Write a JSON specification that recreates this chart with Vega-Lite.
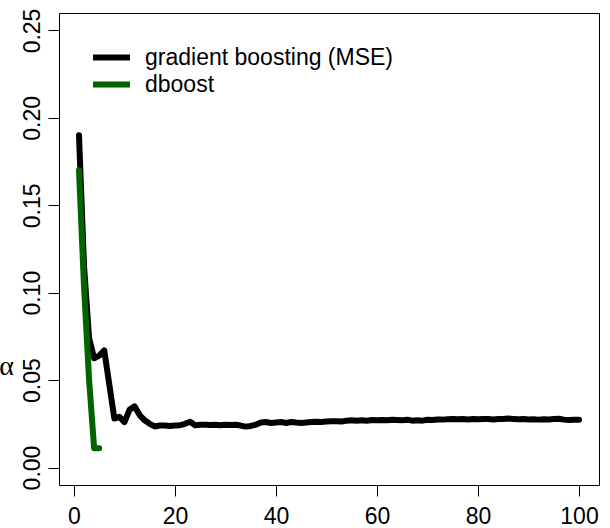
{
  "$schema": "https://vega.github.io/schema/vega-lite/v6.json",
  "width": 540,
  "height": 472,
  "autosize": {"type": "none"},
  "padding": {"left": 59, "top": 13, "right": 11, "bottom": 43},
  "background": "white",
  "config": {
    "view": {"stroke": "black", "strokeWidth": 1},
    "font": "Liberation Sans",
    "axis": {
      "grid": false,
      "domain": false,
      "tickColor": "black",
      "tickWidth": 1,
      "tickSize": 11,
      "labelFont": "Liberation Sans",
      "labelFontSize": 23,
      "labelColor": "black"
    }
  },
  "data": {
    "values": [
      {"series": "gradient boosting (MSE)", "iter": 1, "value": 0.190},
      {"series": "gradient boosting (MSE)", "iter": 2, "value": 0.115},
      {"series": "gradient boosting (MSE)", "iter": 3, "value": 0.074},
      {"series": "gradient boosting (MSE)", "iter": 4, "value": 0.0625},
      {"series": "gradient boosting (MSE)", "iter": 5, "value": 0.064},
      {"series": "gradient boosting (MSE)", "iter": 6, "value": 0.067},
      {"series": "gradient boosting (MSE)", "iter": 7, "value": 0.0475},
      {"series": "gradient boosting (MSE)", "iter": 8, "value": 0.028},
      {"series": "gradient boosting (MSE)", "iter": 9, "value": 0.029},
      {"series": "gradient boosting (MSE)", "iter": 10, "value": 0.026},
      {"series": "gradient boosting (MSE)", "iter": 11, "value": 0.033},
      {"series": "gradient boosting (MSE)", "iter": 12, "value": 0.035},
      {"series": "gradient boosting (MSE)", "iter": 13, "value": 0.030},
      {"series": "gradient boosting (MSE)", "iter": 14, "value": 0.027},
      {"series": "gradient boosting (MSE)", "iter": 15, "value": 0.025},
      {"series": "gradient boosting (MSE)", "iter": 16, "value": 0.0235},
      {"series": "gradient boosting (MSE)", "iter": 17, "value": 0.024},
      {"series": "gradient boosting (MSE)", "iter": 18, "value": 0.024},
      {"series": "gradient boosting (MSE)", "iter": 19, "value": 0.0238},
      {"series": "gradient boosting (MSE)", "iter": 20, "value": 0.024},
      {"series": "gradient boosting (MSE)", "iter": 21, "value": 0.0242},
      {"series": "gradient boosting (MSE)", "iter": 22, "value": 0.025},
      {"series": "gradient boosting (MSE)", "iter": 23, "value": 0.0262},
      {"series": "gradient boosting (MSE)", "iter": 24, "value": 0.0242},
      {"series": "gradient boosting (MSE)", "iter": 25, "value": 0.0245},
      {"series": "gradient boosting (MSE)", "iter": 26, "value": 0.0245},
      {"series": "gradient boosting (MSE)", "iter": 27, "value": 0.0243},
      {"series": "gradient boosting (MSE)", "iter": 28, "value": 0.0245},
      {"series": "gradient boosting (MSE)", "iter": 29, "value": 0.0242},
      {"series": "gradient boosting (MSE)", "iter": 30, "value": 0.0245},
      {"series": "gradient boosting (MSE)", "iter": 31, "value": 0.0243},
      {"series": "gradient boosting (MSE)", "iter": 32, "value": 0.0245},
      {"series": "gradient boosting (MSE)", "iter": 33, "value": 0.024},
      {"series": "gradient boosting (MSE)", "iter": 34, "value": 0.0234},
      {"series": "gradient boosting (MSE)", "iter": 35, "value": 0.0238},
      {"series": "gradient boosting (MSE)", "iter": 36, "value": 0.0245},
      {"series": "gradient boosting (MSE)", "iter": 37, "value": 0.0258},
      {"series": "gradient boosting (MSE)", "iter": 38, "value": 0.026},
      {"series": "gradient boosting (MSE)", "iter": 39, "value": 0.0255},
      {"series": "gradient boosting (MSE)", "iter": 40, "value": 0.0258},
      {"series": "gradient boosting (MSE)", "iter": 41, "value": 0.026},
      {"series": "gradient boosting (MSE)", "iter": 42, "value": 0.0255},
      {"series": "gradient boosting (MSE)", "iter": 43, "value": 0.026},
      {"series": "gradient boosting (MSE)", "iter": 44, "value": 0.0257},
      {"series": "gradient boosting (MSE)", "iter": 45, "value": 0.0255},
      {"series": "gradient boosting (MSE)", "iter": 46, "value": 0.0258},
      {"series": "gradient boosting (MSE)", "iter": 47, "value": 0.026},
      {"series": "gradient boosting (MSE)", "iter": 48, "value": 0.0262},
      {"series": "gradient boosting (MSE)", "iter": 49, "value": 0.026},
      {"series": "gradient boosting (MSE)", "iter": 50, "value": 0.0263},
      {"series": "gradient boosting (MSE)", "iter": 51, "value": 0.0265},
      {"series": "gradient boosting (MSE)", "iter": 52, "value": 0.0265},
      {"series": "gradient boosting (MSE)", "iter": 53, "value": 0.0263},
      {"series": "gradient boosting (MSE)", "iter": 54, "value": 0.0268},
      {"series": "gradient boosting (MSE)", "iter": 55, "value": 0.027},
      {"series": "gradient boosting (MSE)", "iter": 56, "value": 0.0268},
      {"series": "gradient boosting (MSE)", "iter": 57, "value": 0.027},
      {"series": "gradient boosting (MSE)", "iter": 58, "value": 0.0268},
      {"series": "gradient boosting (MSE)", "iter": 59, "value": 0.0272},
      {"series": "gradient boosting (MSE)", "iter": 60, "value": 0.027},
      {"series": "gradient boosting (MSE)", "iter": 61, "value": 0.0272},
      {"series": "gradient boosting (MSE)", "iter": 62, "value": 0.027},
      {"series": "gradient boosting (MSE)", "iter": 63, "value": 0.0273},
      {"series": "gradient boosting (MSE)", "iter": 64, "value": 0.0272},
      {"series": "gradient boosting (MSE)", "iter": 65, "value": 0.027},
      {"series": "gradient boosting (MSE)", "iter": 66, "value": 0.0273},
      {"series": "gradient boosting (MSE)", "iter": 67, "value": 0.0268},
      {"series": "gradient boosting (MSE)", "iter": 68, "value": 0.027},
      {"series": "gradient boosting (MSE)", "iter": 69, "value": 0.0268},
      {"series": "gradient boosting (MSE)", "iter": 70, "value": 0.0273},
      {"series": "gradient boosting (MSE)", "iter": 71, "value": 0.0272},
      {"series": "gradient boosting (MSE)", "iter": 72, "value": 0.0275},
      {"series": "gradient boosting (MSE)", "iter": 73, "value": 0.0274},
      {"series": "gradient boosting (MSE)", "iter": 74, "value": 0.0276},
      {"series": "gradient boosting (MSE)", "iter": 75, "value": 0.0278},
      {"series": "gradient boosting (MSE)", "iter": 76, "value": 0.0276},
      {"series": "gradient boosting (MSE)", "iter": 77, "value": 0.0277},
      {"series": "gradient boosting (MSE)", "iter": 78, "value": 0.0275},
      {"series": "gradient boosting (MSE)", "iter": 79, "value": 0.0277},
      {"series": "gradient boosting (MSE)", "iter": 80, "value": 0.0276},
      {"series": "gradient boosting (MSE)", "iter": 81, "value": 0.0278},
      {"series": "gradient boosting (MSE)", "iter": 82, "value": 0.0277},
      {"series": "gradient boosting (MSE)", "iter": 83, "value": 0.0275},
      {"series": "gradient boosting (MSE)", "iter": 84, "value": 0.0278},
      {"series": "gradient boosting (MSE)", "iter": 85, "value": 0.0277},
      {"series": "gradient boosting (MSE)", "iter": 86, "value": 0.028},
      {"series": "gradient boosting (MSE)", "iter": 87, "value": 0.0278},
      {"series": "gradient boosting (MSE)", "iter": 88, "value": 0.0276},
      {"series": "gradient boosting (MSE)", "iter": 89, "value": 0.0278},
      {"series": "gradient boosting (MSE)", "iter": 90, "value": 0.0275},
      {"series": "gradient boosting (MSE)", "iter": 91, "value": 0.0276},
      {"series": "gradient boosting (MSE)", "iter": 92, "value": 0.0274},
      {"series": "gradient boosting (MSE)", "iter": 93, "value": 0.0276},
      {"series": "gradient boosting (MSE)", "iter": 94, "value": 0.0275},
      {"series": "gradient boosting (MSE)", "iter": 95, "value": 0.0277},
      {"series": "gradient boosting (MSE)", "iter": 96, "value": 0.0279},
      {"series": "gradient boosting (MSE)", "iter": 97, "value": 0.0274},
      {"series": "gradient boosting (MSE)", "iter": 98, "value": 0.0272},
      {"series": "gradient boosting (MSE)", "iter": 99, "value": 0.0273},
      {"series": "gradient boosting (MSE)", "iter": 100, "value": 0.0273},
      {"series": "dboost", "iter": 1, "value": 0.170},
      {"series": "dboost", "iter": 2, "value": 0.103},
      {"series": "dboost", "iter": 3, "value": 0.050},
      {"series": "dboost", "iter": 4, "value": 0.011},
      {"series": "dboost", "iter": 5, "value": 0.011}
    ]
  },
  "encoding": {
    "x": {
      "field": "iter", "type": "quantitative",
      "scale": {"domain": [-2.96, 103.96], "nice": false, "zero": false},
      "axis": {"values": [0, 20, 40, 60, 80, 100], "title": null, "labelPadding": 9}
    },
    "y": {
      "field": "value", "type": "quantitative",
      "scale": {"domain": [-0.01, 0.26], "nice": false, "zero": false},
      "axis": {
        "values": [0, 0.05, 0.1, 0.15, 0.2, 0.25],
        "format": ".2f",
        "labelAngle": -90,
        "labelAlign": "center",
        "labelBaseline": "bottom",
        "labelPadding": 4,
        "title": "α",
        "titleFont": "Liberation Serif",
        "titleFontSize": 28,
        "titleFontWeight": "normal",
        "titleColor": "black",
        "titleAngle": 0,
        "titleAlign": "center",
        "titleBaseline": "middle",
        "titleX": -53,
        "titleY": 353
      }
    },
    "color": {
      "field": "series", "type": "nominal",
      "scale": {"domain": ["gradient boosting (MSE)", "dboost"], "range": ["black", "#006400"]},
      "legend": {
        "title": null,
        "orient": "none",
        "legendX": 31,
        "legendY": 31,
        "padding": 0,
        "symbolType": "stroke",
        "symbolStrokeWidth": 6,
        "symbolSize": 1369,
        "labelFont": "Liberation Sans",
        "labelFontSize": 23,
        "labelColor": "black",
        "labelLimit": 0,
        "labelOffset": 12,
        "clipHeight": 27,
        "rowPadding": 0
      }
    }
  },
  "layer": [
    {
      "transform": [{"filter": "datum.series === 'gradient boosting (MSE)'"}],
      "mark": {"type": "line", "strokeWidth": 6, "strokeCap": "round", "strokeJoin": "round"}
    },
    {
      "transform": [{"filter": "datum.series === 'dboost'"}],
      "mark": {"type": "line", "strokeWidth": 6, "strokeCap": "round", "strokeJoin": "round"}
    }
  ]
}
